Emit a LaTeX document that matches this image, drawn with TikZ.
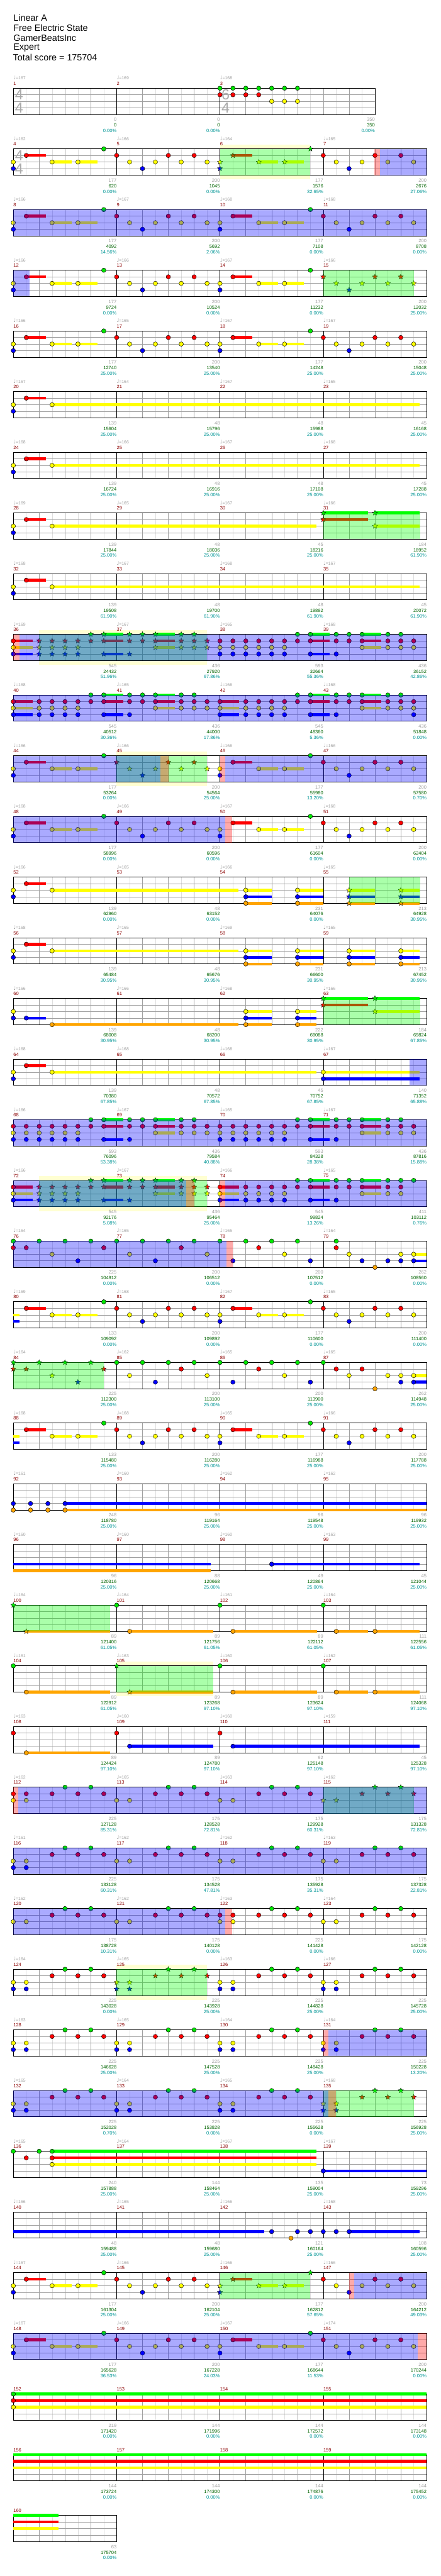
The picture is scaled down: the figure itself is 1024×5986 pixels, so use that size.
\documentclass[tikz,border=0pt]{standalone}
\usepackage{fontspec}
\setmainfont{Liberation Sans}
\newfontfamily\symf{DejaVu Sans}
\usetikzlibrary{shapes.geometric}
\definecolor{ln0}{RGB}{0,230,0}
\definecolor{ln1}{RGB}{255,0,0}
\definecolor{ln2}{RGB}{255,255,0}
\definecolor{ln3}{RGB}{0,0,255}
\definecolor{ln4}{RGB}{255,165,0}
\definecolor{sl0}{RGB}{0,255,0}
\definecolor{sl1}{RGB}{255,0,0}
\definecolor{sl2}{RGB}{255,255,0}
\definecolor{sl3}{RGB}{0,0,255}
\definecolor{sl4}{RGB}{255,165,0}
\definecolor{gridlt}{RGB}{222,222,222}
\definecolor{gridmd}{RGB}{160,160,160}
\definecolor{mred}{RGB}{139,0,0}
\definecolor{tgray}{RGB}{160,160,160}
\definecolor{tsgray}{RGB}{170,170,170}
\definecolor{sgreen}{RGB}{0,100,0}
\definecolor{pteal}{RGB}{0,150,150}
\definecolor{haloc}{RGB}{255,255,210}
\definecolor{spc}{RGB}{0,0,255}
\definecolor{actc}{RGB}{0,255,0}
\definecolor{pkc}{RGB}{255,0,0}

\def\starA{-9}\def\starB{-9}
\newcommand\qn{{\symf\fontsize{12}{12}\selectfont ♩}}
\newcommand\notehead[2]{%
  \pgfmathsetmacro\hdc{#1}%
  \pgfmathparse{(\hdc>\starA-0.05)*(\hdc<\starB+0.05)}%
  \ifdim\pgfmathresult pt>0.5pt\relax
    \node[starnote,fill=ln#2] at (\hdc,#2) {};%
  \else
    \filldraw[note,fill=ln#2] (\hdc,#2) circle[radius=5.1pt];%
  \fi}
\newcommand\heads[2]{\foreach \pc/\pl in {#2}{\notehead{#1+\pc}{\pl}}}
\newcommand\holdbar[3]{\draw[hold,draw=sl#2] (#1,#2) -- ++(#3,0);}
\newcommand\holds[2]{\foreach \pc/\pl/\pn in {#2}{\holdbar{#1+\pc}{\pl}{\pn}}}
\newcommand\riffAbody[1]{\holds{#1}{1/1/1.5,3/2/1.5,5/2/1.5}%
  \heads{#1}{1/1,3/2,5/2,7/0,8/1,9/2,10/3,11/2,12/1,13/2,14/1,15/2}}
\newcommand\riffA[1]{\heads{#1}{0/2,0/3}\riffAbody{#1}}
\newcommand\riffB[1]{\holds{0}{1/1/1.5,3/2/#1}\heads{0}{0/2,0/3,1/1,3/2}}
\newcommand\riffCtail[1]{\holds{#1}{7/0/1.5,7/1/1.5,7/3/1.5,11/0/1.5,11/1/1.5,11/2/1.5}%
  \heads{#1}{6/0,6/1,7/0,7/1,7/3,9/0,9/1,9/3,10/0,10/1,11/0,11/1,11/2,13/0,13/1,13/2,14/0,14/1,14/2}}
\newcommand\riffCa[1]{\holds{#1}{0/1/1.5,0/2/1.5,0/3/1.5}%
  \heads{#1}{0/1,0/2,0/3,2/1,2/2,2/3,3/1,3/2,3/3,4/1,4/2,4/3,5/1,5/2,5/3}\riffCtail{#1}}
\newcommand\riffCb[1]{%
  \heads{#1}{0/1,0/2,0/3,1/1,1/2,1/3,2/1,2/2,2/3,3/1,3/2,3/3,4/1,4/2,4/3,5/1,5/2,5/3}\riffCtail{#1}}
\newcommand\riffD[1]{\heads{#1}{0/2,1/2,3/1,4/0,5/1,6/0,7/1}}
\newcommand\riffE[1]{\heads{#1}{0/2,0/3,1/2,1/3,3/1,4/0,5/1,6/0,7/1}}
\newcommand\ybo[2]{\holds{#1}{0/2/#2,0/3/#2,0/4/#2}\heads{#1}{0/2,0/3,0/4}}
\newcommand\spzone[2]{\fill[spfill] (#1,0) rectangle (#2,4);}
\newcommand\actzone[2]{\fill[actfill] (#1,0) rectangle (#2,4);}
\newcommand\pinkzone[2]{\fill[pkfill] (#1,0) rectangle (#2,4);}
\newcommand\halozone[2]{\fill[halofill] ({30*#1},-10) rectangle ({30*#2},71);}
\newcommand\starrange[2]{\def\starA{#1}\def\starB{#2}}
\newcommand\drawstaff[2]{%
  \fill[white] (0,0) rectangle ({30*#1},61);
  \pgfmathtruncatemacro\nsa{#1-1}\pgfmathtruncatemacro\nsb{#1-2}%
  \foreach \kq in {1,3,...,\nsa} {\draw[ltline] ({30*\kq},0) -- ({30*\kq},61);}
  \foreach \kq in {2,4,...,\nsb} {\draw[mdline] ({30*\kq},0) -- ({30*\kq},61);}
  \foreach \yq in {15.25,30.5,45.75} {\draw[mdline] (0,\yq) -- ({30*#1},\yq);}
  \foreach \kq in {#2} {\draw[barline] ({30*\kq},0) -- ({30*\kq},61);}
  \draw[border] (0,0) rectangle ({30*#1},61);}
\newcommand\measlabels[2]{%
  \foreach \tq/\gq/\sq/\pq [count=\iq from 0] in {#2}{%
    \pgfmathtruncatemacro\mq{#1+\iq}%
    \node[tempo] (t\mq) at ({240*\iq},-24) {\qn=\tq};
    \node[mnum] (m\mq) at ({240*\iq},-11) {\mq};
    \node[ngray] (g\mq) at ({240*\iq+240},73) {\gq};
    \node[ngreen] (s\mq) at ({240*\iq+240},86) {\sq};
    \node[nteal] (p\mq) at ({240*\iq+240},99) {\pq\%};}}
\newcommand\measlabelsnt[2]{%
  \foreach \gq/\sq/\pq [count=\iq from 0] in {#2}{%
    \pgfmathtruncatemacro\mq{#1+\iq}%
    \node[mnum] (m\mq) at ({240*\iq},-11) {\mq};
    \node[ngray] (g\mq) at ({240*\iq+240},73) {\gq};
    \node[ngreen] (s\mq) at ({240*\iq+240},86) {\sq};
    \node[nteal] (p\mq) at ({240*\iq+240},99) {\pq\%};}}

\begin{document}
\begin{tikzpicture}[x=1pt,y=-1pt]
\tikzset{chartrow/.style={shift={(31,{205+141*(#1-1)})}},lanegrid/.style={x=30pt,y=-15.25pt},
  note/.style={draw=black,line width=0.7pt},
  starnote/.style={star,star points=5,star point ratio=2.2,minimum size=12.5pt,inner sep=0pt,draw=black,line width=0.5pt},
  hold/.style={line width=6.5pt},
  ltline/.style={draw=gridlt,line width=0.8pt},mdline/.style={draw=gridmd,line width=0.8pt},
  barline/.style={draw=black,line width=0.9pt},border/.style={draw=black,line width=1.3pt},
  spfill/.style={fill=spc,fill opacity=0.333},actfill/.style={fill=actc,fill opacity=0.333},
  pkfill/.style={fill=pkc,fill opacity=0.333},halofill/.style={fill=haloc},
  tempo/.style={anchor=west,inner sep=0pt,text=tgray,font=\fontsize{10}{12}\selectfont},
  mnum/.style={anchor=west,inner sep=0pt,text=mred,font=\fontsize{11}{12}\selectfont},
  ngray/.style={anchor=east,inner sep=0pt,text=tgray,font=\fontsize{11}{12}\selectfont},
  ngreen/.style={ngray,text=sgreen},nteal/.style={ngray,text=pteal},
  title/.style={anchor=west,inner sep=0pt,font=\fontsize{21}{25}\selectfont},
  tsig/.style={inner sep=0pt,text=tsgray,font=\fontsize{34}{34}\selectfont}}
\useasboundingbox (0,0) rectangle (1024,5986);
\fill[white] (0,0) rectangle (1024,5986);
\node[title] (song) at (31,42) {Linear A};
\node[title] (artist) at (31,65) {Free Electric State};
\node[title] (charter) at (31,88) {GamerBeatsInc};
\node[title] (diff) at (31,111) {Expert};
\node[title] (total) at (30,134) {Total score = 175704};

% measures 1-3
\begin{scope}[chartrow=1]
  \drawstaff{28}{8,16}
  \node[tsig] (ts1a) at (13.5,15.5) {4}; \node[tsig] (ts1b) at (13.5,46) {4};
  \node[tsig] (ts3a) at (493,15.5) {6}; \node[tsig] (ts3b) at (493,46) {4};
  \begin{scope}[lanegrid]
    \heads{0}{16/0,16/1,17/0,17/1,18/0,18/1,19/0,19/1,20/0,20/2,21/0,21/2,22/0,22/2}
  \end{scope}
  \node[tempo] (t1) at (0,-24) {\qn=167}; \node[tempo] (t2) at (240,-24) {\qn=169};
  \node[tempo] (t3) at (480,-24) {\qn=168};
  \node[mnum] (m1) at (0,-11) {1}; \node[mnum] (m2) at (240,-11) {2}; \node[mnum] (m3) at (480,-11) {3};
  \node[ngray] (g1) at (240,73) {0}; \node[ngreen] (s1) at (240,86) {0}; \node[nteal] (p1) at (240,99) {0.00\%};
  \node[ngray] (g2) at (480,73) {0}; \node[ngreen] (s2) at (480,86) {0}; \node[nteal] (p2) at (480,99) {0.00\%};
  \node[ngray] (g3) at (840,73) {350}; \node[ngreen] (s3) at (840,86) {350}; \node[nteal] (p3) at (840,99) {0.00\%};
\end{scope}

% measures 4-7
\begin{scope}[chartrow=2]
  \halozone{16}{23}
  \drawstaff{32}{8,16,24}
  \node[tsig] (ts4a) at (13.5,15.5) {4}; \node[tsig] (ts4b) at (13.5,46) {4};
  \begin{scope}[lanegrid]
    \starrange{16}{23}\riffA{0}\riffA{16}
    \actzone{16}{23}\spzone{28.4}{32}\pinkzone{27.95}{28.4}
  \end{scope}
  \measlabels{4}{162/177/620/0.00,166/200/1045/0.00,164/177/1576/32.65,165/200/2676/27.06}
\end{scope}

% measures 8-11
\begin{scope}[chartrow=3]
  \drawstaff{32}{8,16,24}
  \begin{scope}[lanegrid]
    \riffA{0}\riffA{16}\spzone{0}{32}
  \end{scope}
  \measlabels{8}{166/177/4092/14.56,167/200/5692/2.06,168/177/7108/0.00,168/200/8708/0.00}
\end{scope}

% measures 12-15
\begin{scope}[chartrow=4]
  \drawstaff{32}{8,16,24}
  \begin{scope}[lanegrid]
    \starrange{24}{31}\riffA{0}\riffA{16}
    \actzone{24}{31}\spzone{0}{1.28}
  \end{scope}
  \measlabels{12}{166/177/9724/0.00,166/200/10524/0.00,167/177/11232/0.00,166/200/12032/25.00}
\end{scope}

% measures 16-19
\begin{scope}[chartrow=5]
  \drawstaff{32}{8,16,24}
  \begin{scope}[lanegrid]
    \riffA{0}\riffA{16}
  \end{scope}
  \measlabels{16}{166/177/12740/25.00,165/200/13540/25.00,167/177/14248/25.00,167/200/15048/25.00}
\end{scope}

% measures 20-23
\begin{scope}[chartrow=6]
  \drawstaff{32}{8,16,24}
  \begin{scope}[lanegrid]
    \riffB{28.45}
  \end{scope}
  \measlabels{20}{167/139/15604/25.00,164/48/15796/25.00,167/48/15988/25.00,165/45/16168/25.00}
\end{scope}

% measures 24-27
\begin{scope}[chartrow=7]
  \drawstaff{32}{8,16,24}
  \begin{scope}[lanegrid]
    \riffB{28.45}
  \end{scope}
  \measlabels{24}{168/139/16724/25.00,166/48/16916/25.00,167/48/17108/25.00,168/45/17288/25.00}
\end{scope}

% measures 28-31
\begin{scope}[chartrow=8]
  \drawstaff{32}{8,16,24}
  \begin{scope}[lanegrid]
    \starrange{24}{31.5}\riffB{20.45}
    \holds{0}{24/0/3.45,24/1/3.45,28/0/3.45,28/2/3.45}\heads{0}{24/0,24/1,28/0,28/2}
    \actzone{24}{31.5}
  \end{scope}
  \measlabels{28}{169/139/17844/25.00,165/48/18036/25.00,167/45/18216/25.00,166/184/18952/61.90}
\end{scope}

% measures 32-35
\begin{scope}[chartrow=9]
  \drawstaff{32}{8,16,24}
  \begin{scope}[lanegrid]
    \riffB{28.45}
  \end{scope}
  \measlabels{32}{168/139/19508/61.90,167/48/19700/61.90,168/48/19892/61.90,167/45/20072/61.90}
\end{scope}

% measures 36-39
\begin{scope}[chartrow=10]
  \halozone{2}{15}
  \drawstaff{32}{8,16,24}
  \begin{scope}[lanegrid]
    \starrange{2}{15}\riffCa{0}\heads{0}{15/1,15/2}\riffCb{16}\heads{0}{31/1,31/2}
    \actzone{2}{15}\spzone{0.48}{32}\pinkzone{0}{0.48}
  \end{scope}
  \measlabels{36}{169/545/24432/51.96,167/436/27920/67.86,165/593/32664/55.36,168/436/36152/42.86}
\end{scope}

% measures 40-43
\begin{scope}[chartrow=11]
  \drawstaff{32}{8,16,24}
  \begin{scope}[lanegrid]
    \riffCa{0}\heads{0}{15/1,15/2}\riffCa{16}\heads{0}{31/1,31/2,31/3}
    \spzone{0}{32}
  \end{scope}
  \measlabels{40}{168/545/40512/30.36,165/436/44000/17.86,166/545/48360/5.36,168/436/51848/0.00}
\end{scope}

% measures 44-47
\begin{scope}[chartrow=12]
  \halozone{8}{15}
  \drawstaff{32}{8,16,24}
  \begin{scope}[lanegrid]
    \starrange{8}{15}\riffA{0}\riffA{16}
    \actzone{8}{15}\spzone{0}{11.4}\spzone{16.4}{32}\pinkzone{11.4}{12}\pinkzone{16}{16.4}
  \end{scope}
  \measlabels{44}{166/177/53264/0.00,166/200/54564/25.00,166/177/55980/13.20,166/200/57580/0.70}
\end{scope}

% measures 48-51
\begin{scope}[chartrow=13]
  \drawstaff{32}{8,16,24}
  \begin{scope}[lanegrid]
    \riffA{0}\riffA{16}\spzone{0}{16.4}\pinkzone{16.4}{16.95}
  \end{scope}
  \measlabels{48}{168/177/58996/0.00,166/200/60596/0.00,167/177/61604/0.00,168/200/62404/0.00}
\end{scope}

% measures 52-55
\begin{scope}[chartrow=14]
  \drawstaff{32}{8,16,24}
  \begin{scope}[lanegrid]
    \starrange{26}{31.5}
    \heads{0}{0/2,0/3}\holds{0}{1/1/1.5,3/2/14.45}\heads{0}{1/1,3/2}
    \ybo{18}{2}\ybo{22}{2}\ybo{26}{2}\ybo{30}{1.45}
    \actzone{26}{31.5}
  \end{scope}
  \measlabels{52}{166/139/62960/0.00,165/48/63152/0.00,166/231/64076/0.00,165/213/64928/30.95}
\end{scope}

% measures 56-59
\begin{scope}[chartrow=15]
  \drawstaff{32}{8,16,24}
  \begin{scope}[lanegrid]
    \heads{0}{0/2,0/3}\holds{0}{1/1/1.5,3/2/14.45}\heads{0}{1/1,3/2}
    \ybo{18}{2}\ybo{22}{2}\ybo{26}{2}\ybo{30}{1.45}
  \end{scope}
  \measlabels{56}{168/139/65484/30.95,165/48/65676/30.95,169/231/66600/30.95,165/213/67452/30.95}
\end{scope}

% measures 60-63
\begin{scope}[chartrow=16]
  \drawstaff{32}{8,16,24}
  \begin{scope}[lanegrid]
    \starrange{24}{31.5}
    \holds{0}{1/3/1.5,3/4/14.45}\heads{0}{0/2,0/3,1/3,3/4}
    \ybo{18}{2}\ybo{22}{1.45}
    \holds{0}{24/0/3.45,24/1/3.45,28/0/3.45,28/2/3.45}\heads{0}{24/0,24/1,28/0,28/2}
    \actzone{24}{31.5}
  \end{scope}
  \measlabels{60}{166/139/68008/30.95,166/48/68200/30.95,168/222/69088/30.95,166/184/69824/67.85}
\end{scope}

% measures 64-67
\begin{scope}[chartrow=17]
  \drawstaff{32}{8,16,24}
  \begin{scope}[lanegrid]
    \riffB{20.45}\holds{0}{24/2/7.45,24/3/7.45}\heads{0}{24/2,24/3}
    \spzone{30.7}{32}
  \end{scope}
  \measlabels{64}{168/139/70380/67.85,168/48/70572/67.85,168/45/70752/67.85,167/140/71352/65.88}
\end{scope}

% measures 68-71
\begin{scope}[chartrow=18]
  \drawstaff{32}{8,16,24}
  \begin{scope}[lanegrid]
    \riffCb{0}\heads{0}{15/1,15/2}\riffCb{16}\heads{0}{31/1,31/2}
    \spzone{0}{32}
  \end{scope}
  \measlabels{68}{166/593/76096/53.38,167/436/79584/40.88,165/593/84328/28.38,167/436/87816/15.88}
\end{scope}

% measures 72-75
\begin{scope}[chartrow=19]
  \halozone{2}{15}
  \drawstaff{32}{8,16,24}
  \begin{scope}[lanegrid]
    \starrange{2}{15}\riffCa{0}\heads{0}{15/1,15/2}\riffCa{16}\heads{0}{31/0}
    \actzone{2}{15}\spzone{0}{13.4}\spzone{16.4}{32}\pinkzone{13.4}{14}\pinkzone{16}{16.4}
  \end{scope}
  \measlabels{72}{166/545/92176/5.08,167/436/95464/25.00,166/545/99824/13.26,165/411/103112/0.76}
\end{scope}

% measures 76-79
\begin{scope}[chartrow=20]
  \drawstaff{32}{8,16,24}
  \begin{scope}[lanegrid]
    \holds{0}{31/2/1,31/3/1}
    \heads{0}{0/0,0/1,1/1,2/0,3/2,4/0,5/3,6/0,7/1,8/0,9/2,10/0,11/3,12/0,13/1,14/0,15/2,16/0,17/3,18/0,19/1,20/0,21/2,22/0,23/3,25/0,25/1,26/2,27/3,28/4,29/3,30/2,30/3,31/2,31/3}
    \spzone{0}{16.5}\pinkzone{16.5}{17}
  \end{scope}
  \measlabels{76}{164/225/104912/0.00,165/200/106512/0.00,165/200/107512/0.00,164/262/108560/0.00}
\end{scope}

% measures 80-83
\begin{scope}[chartrow=21]
  \drawstaff{32}{8,16,24}
  \begin{scope}[lanegrid]
    \holds{0}{0/2/0.48,0/3/0.48}\riffAbody{0}\riffA{16}
  \end{scope}
  \measlabels{80}{169/133/109092/0.00,168/200/109892/0.00,167/177/110600/0.00,165/200/111400/0.00}
\end{scope}

% measures 84-87
\begin{scope}[chartrow=22]
  \drawstaff{32}{8,16,24}
  \begin{scope}[lanegrid]
    \starrange{0}{7}\holds{0}{31/2/1,31/3/1}
    \heads{0}{0/0,0/1,1/1,2/0,3/2,4/0,5/3,6/0,7/1,8/0,9/2,10/0,11/3,12/0,13/1,14/0,15/2,16/0,17/3,18/0,19/1,20/0,21/2,22/0,23/3,24/0,25/1,26/2,27/1,28/4,29/2,30/2,30/3,31/2,31/3}
    \actzone{0}{7}
  \end{scope}
  \measlabels{84}{164/225/112300/25.00,162/200/113100/25.00,165/200/113900/25.00,165/262/114948/25.00}
\end{scope}

% measures 88-91
\begin{scope}[chartrow=23]
  \drawstaff{32}{8,16,24}
  \begin{scope}[lanegrid]
    \holds{0}{0/2/0.48,0/3/0.48}\riffAbody{0}\riffA{16}
  \end{scope}
  \measlabels{88}{168/133/115480/25.00,168/200/116280/25.00,165/177/116988/25.00,166/200/117788/25.00}
\end{scope}

% measures 92-95
\begin{scope}[chartrow=24]
  \drawstaff{32}{8,16,24}
  \begin{scope}[lanegrid]
    \holds{0}{4/3/28,4/4/28}\heads{0}{0/3,0/4,1.33/3,1.33/4,2.67/3,2.67/4,4/3,4/4}
  \end{scope}
  \measlabels{92}{161/248/118780/25.00,160/96/119164/25.00,162/96/119548/25.00,162/96/119932/25.00}
\end{scope}

% measures 96-99
\begin{scope}[chartrow=25]
  \drawstaff{32}{8,16,24}
  \begin{scope}[lanegrid]
    \holds{0}{0/3/15.3,0/4/15.3,20/3/11.45}\heads{0}{20/3}
  \end{scope}
  \measlabels{96}{160/96/120316/25.00,160/88/120668/25.00,160/49/120864/25.00,163/45/121044/25.00}
\end{scope}

% measures 100-103
\begin{scope}[chartrow=26]
  \drawstaff{32}{8,16,24}
  \begin{scope}[lanegrid]
    \starrange{0}{7.5}
    \holds{0}{1/4/6.5,9/4/6.5,17/4/6.5,25/4/2.45,28/4/3.45}\heads{0}{0/0,1/4,8/0,9/4,16/0,17/4,24/0,25/4,28/4}
    \actzone{0}{7.5}
  \end{scope}
  \measlabels{100}{164/89/121400/61.05,164/89/121756/61.05,161/89/122112/61.05,164/111/122556/61.05}
\end{scope}

% measures 104-107
\begin{scope}[chartrow=27]
  \halozone{8}{15.5}
  \drawstaff{32}{8,16,24}
  \begin{scope}[lanegrid]
    \starrange{8}{15.5}
    \holds{0}{1/4/6.5,9/4/6.5,17/4/6.5,25/4/2.45,28/4/3.45}\heads{0}{0/0,1/4,8/0,9/4,16/0,17/4,24/0,25/4,28/4}
    \actzone{8}{15.5}
  \end{scope}
  \measlabels{104}{161/89/122912/61.05,163/89/123268/97.10,160/89/123624/97.10,162/111/124068/97.10}
\end{scope}

% measures 108-111
\begin{scope}[chartrow=28]
  \drawstaff{32}{8,16,24}
  \begin{scope}[lanegrid]
    \holds{0}{1/4/6.5,9/3/6.5,17/3/14.45}\heads{0}{0/1,1/4,8/1,9/3,16/1,17/3}
  \end{scope}
  \measlabels{108}{163/89/124424/97.10,160/89/124780/97.10,160/92/125148/97.10,159/45/125328/97.10}
\end{scope}

% measures 112-115
\begin{scope}[chartrow=29]
  \drawstaff{32}{8,16,24}
  \begin{scope}[lanegrid]
    \starrange{24}{31}\heads{0}{0/1,1/1}\riffD{0}\riffD{8}\riffD{16}\riffD{24}
    \actzone{24}{31}\spzone{0.4}{32}\pinkzone{0}{0.4}
  \end{scope}
  \measlabels{112}{162/225/127128/85.31,165/175/128528/72.81,163/175/129928/60.31,162/175/131328/72.81}
\end{scope}

% measures 116-119
\begin{scope}[chartrow=30]
  \drawstaff{32}{8,16,24}
  \begin{scope}[lanegrid]
    \riffE{0}\riffD{8}\riffD{16}\riffD{24}\spzone{0}{32}
  \end{scope}
  \measlabels{116}{161/225/133128/60.31,162/175/134528/47.81,162/175/135928/35.31,163/175/137328/22.81}
\end{scope}

% measures 120-123
\begin{scope}[chartrow=31]
  \drawstaff{32}{8,16,24}
  \begin{scope}[lanegrid]
    \riffD{0}\riffD{8}\heads{0}{16/1,17/1}\riffD{16}\riffD{24}
    \spzone{0}{16.4}\pinkzone{16.4}{16.95}
  \end{scope}
  \measlabels{120}{162/175/138728/10.31,162/175/140128/0.00,163/225/141428/0.00,164/175/142128/0.00}
\end{scope}

% measures 124-127
\begin{scope}[chartrow=32]
  \halozone{8}{15}
  \drawstaff{32}{8,16,24}
  \begin{scope}[lanegrid]
    \starrange{8}{15}\riffE{0}\riffE{8}\riffE{16}\riffE{24}\actzone{8}{15}
  \end{scope}
  \measlabels{124}{164/225/143028/0.00,165/225/143928/25.00,163/225/144828/25.00,166/225/145728/25.00}
\end{scope}

% measures 128-131
\begin{scope}[chartrow=33]
  \drawstaff{32}{8,16,24}
  \begin{scope}[lanegrid]
    \riffE{0}\riffE{8}\riffE{16}\riffE{24}\spzone{24.4}{32}\pinkzone{24}{24.4}
  \end{scope}
  \measlabels{128}{163/225/146628/25.00,165/225/147528/25.00,164/225/148428/25.00,164/225/150228/13.20}
\end{scope}

% measures 132-135
\begin{scope}[chartrow=34]
  \drawstaff{32}{8,16,24}
  \begin{scope}[lanegrid]
    \starrange{24}{31}\riffE{0}\riffE{8}\riffE{16}\riffE{24}
    \actzone{24}{31}\spzone{0}{24.4}\pinkzone{24.4}{25}
  \end{scope}
  \measlabels{132}{165/225/152028/0.70,164/225/153828/0.00,165/225/155628/0.00,168/225/156928/25.00}
\end{scope}

% measures 136-139
\begin{scope}[chartrow=35]
  \drawstaff{32}{8,16,24}
  \begin{scope}[lanegrid]
    \holds{0}{3/0/20.45,3/1/20.45,3/2/20.45,24/3/8}\heads{0}{0/0,1/1,2/0,3/0,3/1,3/2,24/3}
  \end{scope}
  \measlabels{136}{165/240/157888/25.00,164/144/158464/25.00,167/135/159004/25.00,167/73/159296/25.00}
\end{scope}

% measures 140-143
\begin{scope}[chartrow=36]
  \drawstaff{32}{8,16,24}
  \begin{scope}[lanegrid]
    \holds{0}{0/3/19.45,26/3/5.45}\heads{0}{20/3,21.5/4,22/3,23/3,24/3,25/3,26/3}
  \end{scope}
  \measlabels{140}{166/48/159488/25.00,165/48/159680/25.00,166/121/160164/25.00,168/108/160596/25.00}
\end{scope}

% measures 144-147
\begin{scope}[chartrow=37]
  \drawstaff{32}{8,16,24}
  \begin{scope}[lanegrid]
    \starrange{16}{23}\riffA{0}\riffA{16}
    \actzone{16}{23}\spzone{26.4}{32}\pinkzone{26}{26.4}
  \end{scope}
  \measlabels{144}{167/177/161304/25.00,166/200/162104/25.00,166/177/162812/57.65,166/200/164212/49.03}
\end{scope}

% measures 148-151
\begin{scope}[chartrow=38]
  \drawstaff{32}{8,16,24}
  \begin{scope}[lanegrid]
    \riffA{0}\riffA{16}\spzone{0}{31.3}\pinkzone{31.3}{32}
  \end{scope}
  \measlabels{148}{167/177/165628/36.53,166/200/167228/24.03,167/177/168644/11.53,174/200/170244/0.00}
\end{scope}

% measures 152-155
\begin{scope}[chartrow=39]
  \drawstaff{32}{8,16,24}
  \begin{scope}[lanegrid]
    \holds{0}{0/0/32,0/1/32,0/2/32}\heads{0}{0/0,0/1,0/2}
  \end{scope}
  \measlabelsnt{152}{219/171420/0.00,144/171996/0.00,144/172572/0.00,144/173148/0.00}
\end{scope}

% measures 156-159
\begin{scope}[chartrow=40]
  \drawstaff{32}{8,16,24}
  \begin{scope}[lanegrid]
    \holds{0}{0/0/32,0/1/32,0/2/32}
  \end{scope}
  \measlabelsnt{156}{144/173724/0.00,144/174300/0.00,144/174876/0.00,144/175452/0.00}
\end{scope}

% measure 160
\begin{scope}[chartrow=41]
  \drawstaff{8}{0}
  \begin{scope}[lanegrid]
    \holds{0}{0/0/3.5,0/1/3.5,0/2/3.5}
  \end{scope}
  \measlabelsnt{160}{63/175704/0.00}
\end{scope}
\end{tikzpicture}
\end{document}
